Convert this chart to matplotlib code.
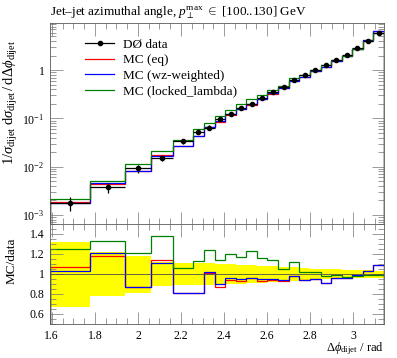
import numpy as np
import matplotlib
matplotlib.use('Agg')
import matplotlib.pyplot as plt
from matplotlib.lines import Line2D
from matplotlib.ticker import MultipleLocator, LogLocator, FuncFormatter, NullFormatter

plt.rcParams['font.family'] = ['Liberation Serif', 'DejaVu Serif']
plt.rcParams['mathtext.fontset'] = 'custom'
plt.rcParams['mathtext.rm'] = 'Liberation Serif'
plt.rcParams['mathtext.it'] = 'Liberation Serif:italic'
plt.rcParams['font.size'] = 9

# bin edges in delta phi (rad)
edges = np.array([1.592, 1.777, 1.9415, 2.0615, 2.161, 2.254, 2.307, 2.356, 2.405,
                  2.454, 2.503, 2.552, 2.601, 2.651, 2.700, 2.749, 2.798, 2.847,
                  2.896, 2.945, 2.994, 3.043, 3.0925, 3.1416])

# D0 data and relative uncertainty
data = np.array([1.75e-3, 3.74e-3, 9.27e-3, 1.51e-2, 3.36e-2, 5.34e-2, 6.45e-2, 9.72e-2,
                 0.126, 0.1675, 0.2025, 0.267, 0.347, 0.455, 0.615, 0.78, 1.01, 1.287,
                 1.634, 2.054, 2.83, 4.0, 5.975])
rel_err = np.array([0.325, 0.22, 0.185, 0.12, 0.11, 0.11, 0.11, 0.105, 0.10, 0.095, 0.09,
                    0.085, 0.08, 0.075, 0.068, 0.06, 0.055, 0.05, 0.047, 0.043, 0.04,
                    0.037, 0.035])

# MC / data ratios
ratio_eq = np.array([1.068, 1.18, 0.875, 1.14, 0.81, 0.81, 1.01, 0.873, 0.941, 0.931,
                     0.958, 0.935, 0.941, 0.931, 0.976, 0.941, 0.948, 0.907, 0.958,
                     0.965, 0.986, 1.034, 1.088])
ratio_wz = np.array([1.034, 1.215, 0.875, 1.113, 0.81, 0.81, 1.017, 0.897, 0.965, 0.948,
                     0.965, 0.948, 0.948, 0.941, 0.976, 0.941, 0.948, 0.907, 0.958,
                     0.962, 0.986, 1.034, 1.088])
ratio_ll = np.array([1.249, 1.334, 1.215, 1.38, 1.06, 1.13, 1.245, 1.136, 1.205, 1.17,
                     1.232, 1.157, 1.14, 1.051, 1.119, 1.02, 1.02, 0.976, 0.993, 0.969,
                     0.976, 0.993, 0.993])

mc_eq = data * ratio_eq
mc_wz = data * ratio_wz
mc_ll = data * ratio_ll

centers = 0.5 * (edges[1:] + edges[:-1])
halfw = 0.5 * (edges[1:] - edges[:-1])

W, H = 397, 358
fig = plt.figure(figsize=(W / 100, H / 100), dpi=100)
ax = fig.add_axes([50 / W, 1 - 224 / H, 334 / W, 201 / H])
rax = fig.add_axes([50 / W, 1 - 324 / H, 334 / W, 100 / H], sharex=ax)

lw = 0.9
ax.stairs(mc_eq, edges, color='red', lw=lw)
ax.stairs(mc_wz, edges, color='blue', lw=lw)
ax.stairs(mc_ll, edges, color='green', lw=lw)
ax.errorbar(centers, data, yerr=data * rel_err, xerr=halfw, fmt='o', color='black',
            ms=3, lw=lw, capsize=0, zorder=5)

ax.set_yscale('log')
ax.set_xlim(edges[0], edges[-1])
ax.set_ylim(6.5e-4, 9.5)

def logfmt(v, pos):
    k = int(round(np.log10(v)))
    if k == 0:
        return '1'
    if k == 1:
        return '10'
    return r'$10^{%d}$' % k

ax.yaxis.set_major_locator(LogLocator(base=10))
ax.yaxis.set_minor_locator(LogLocator(base=10, subs=np.arange(2, 10)))
ax.yaxis.set_major_formatter(FuncFormatter(logfmt))
ax.yaxis.set_minor_formatter(NullFormatter())

handles = [Line2D([], [], color='black', marker='o', ms=3, lw=lw),
           Line2D([], [], color='red', lw=lw),
           Line2D([], [], color='blue', lw=lw),
           Line2D([], [], color='green', lw=lw)]
labels = ['DØ data', 'MC (eq)', 'MC (wz-weighted)', 'MC (locked_lambda)']
ax.legend(handles, labels, loc='upper left', bbox_to_anchor=(0.085, 0.955),
          frameon=False, borderpad=0, handlelength=2.2, handletextpad=0.7,
          labelspacing=0.25, fontsize=9.5)

# ratio panel
rax.stairs(1 + rel_err, edges, baseline=1 - rel_err, fill=True, color='yellow', lw=0)
rax.plot([edges[0], edges[-1]], [1, 1], color='0.3', lw=0.6)
rax.stairs(ratio_eq, edges, color='red', lw=lw)
rax.stairs(ratio_wz, edges, color='blue', lw=lw)
rax.stairs(ratio_ll, edges, color='green', lw=lw)
rax.set_ylim(0.5, 1.5)
rax.yaxis.set_major_locator(MultipleLocator(0.2))
rax.yaxis.set_minor_locator(MultipleLocator(0.05))
rax.yaxis.set_major_formatter(FuncFormatter(lambda v, p: '%g' % round(v, 2)))
rax.xaxis.set_major_locator(MultipleLocator(0.2))
rax.xaxis.set_minor_locator(MultipleLocator(0.05))
rax.xaxis.set_major_formatter(FuncFormatter(lambda v, p: '%g' % round(v, 2)))

for a in (ax, rax):
    a.tick_params(which='both', direction='in', top=True, right=True, width=0.5,
                  color='0.45', labelsize=8.5)
    a.tick_params(which='major', length=9, pad=4)
    a.tick_params(which='minor', length=4.5)
    for s in a.spines.values():
        s.set_linewidth(0.6)
        s.set_color('0.35')
ax.tick_params(labelbottom=False)

fig.text(50 / W, 1 - 13 / H,
         r'Jet–jet azimuthal angle, $p_\perp^\mathrm{max}$ $\in$ [100..130] GeV',
         ha='left', va='center', fontsize=9.5)
fig.text(11 / W, 1 - 40 / H,
         r'$1/\sigma_\mathrm{dijet}\;\mathrm{d}\sigma_\mathrm{dijet}\,/\,\mathrm{d}\Delta\phi_\mathrm{dijet}$',
         rotation=90, ha='center', va='top', fontsize=10.5)
fig.text(12 / W, 1 - 261 / H, 'MC/data', rotation=90, ha='center', va='center',
         fontsize=9.5)
fig.text(384 / W, 1 - 349 / H, r'$\Delta\phi_\mathrm{dijet}$ / rad', ha='right',
         va='center', fontsize=9)

fig.savefig('out.png', dpi=100)
